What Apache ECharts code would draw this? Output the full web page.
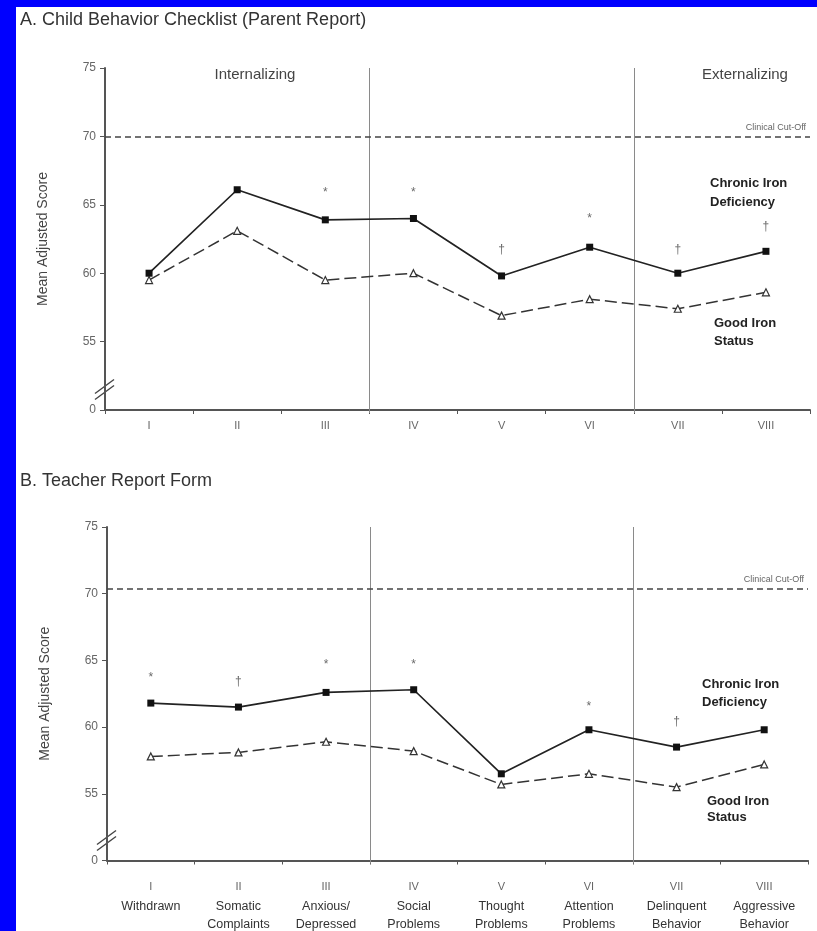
<!DOCTYPE html>
<html>
<head>
<meta charset="utf-8">
<script src="https://cdn.jsdelivr.net/npm/echarts@6/dist/echarts.min.js"></script>
<style>
  html, body { margin: 0; padding: 0; background: #0000ff; }
  #chart { position: absolute; left: 16px; top: 7px; width: 801px; height: 924px; background: #fff; }
</style>
</head>
<body>
<div id="chart"></div>
<script>
// ---- data ----
const categories = ["I", "II", "III", "IV", "V", "VI", "VII", "VIII"];
const scaleNames = ["Withdrawn", "Somatic\nComplaints", "Anxious/\nDepressed", "Social\nProblems",
    "Thought\nProblems", "Attention\nProblems", "Delinquent\nBehavior", "Aggressive\nBehavior"];

const parentChronic = [60.0, 66.1, 63.9, 64.0, 59.8, 61.9, 60.0, 61.6];
const parentGood = [59.5, 63.1, 59.5, 60.0, 56.9, 58.1, 57.4, 58.6];
const parentSig = ["", "", "*", "*", "\u2020", "*", "\u2020", "\u2020"];
const parentSigY = [null, null, 65.9, 65.9, 61.7, 64.0, 61.7, 63.4];

const teacherChronic = [61.8, 61.5, 62.6, 62.8, 56.5, 59.8, 58.5, 59.8];
const teacherGood = [57.8, 58.1, 58.9, 58.2, 55.7, 56.5, 55.5, 57.2];
const teacherSig = ["*", "\u2020", "*", "*", "", "*", "\u2020", ""];
const teacherSigY = [63.7, 63.4, 64.7, 64.7, null, 61.5, 60.4, null];

const cutoffParent = 70;
const cutoffTeacher = 70.4;
// internalizing | other | externalizing: boundaries after these category indices
const groupBreaks = [2, 5];
const BREAK_VALUE = 51.5;   // where the "//" axis break sits (50 is labelled "0")

const chart = echarts.init(document.getElementById("chart"));

const FONT = "Liberation Sans, Arial, sans-serif";

function sigData(marks, ys) {
    const out = [];
    for (let i = 0; i < categories.length; i++) {
        if (!marks[i]) continue;
        out.push({ name: marks[i], value: [categories[i], ys[i]] });
    }
    return out;
}

function makeXAxis(gridIndex, withNames) {
    return {
        type: "category",
        gridIndex: gridIndex,
        data: categories,
        boundaryGap: true,
        axisLine: { lineStyle: { color: "#555", width: 2 } },
        axisTick: { show: true, length: 4, lineStyle: { color: "#555" } },
        splitLine: { show: false },
        axisLabel: withNames ? {
            margin: 16,
            interval: 0,
            fontFamily: FONT,
            formatter: (v, i) => "{r|" + v + "}\n" + scaleNames[i].split("\n").map(s => "{n|" + s + "}").join("\n"),
            rich: {
                r: { fontSize: 11, color: "#666", lineHeight: 21, fontFamily: FONT },
                n: { fontSize: 12.5, color: "#333", lineHeight: 18, fontFamily: FONT }
            }
        } : {
            margin: 10,
            interval: 0,
            fontSize: 11,
            color: "#666",
            fontFamily: FONT
        }
    };
}

function makeYAxis(gridIndex) {
    return {
        type: "value",
        gridIndex: gridIndex,
        min: 50,
        max: 75,
        interval: 5,
        name: "Mean Adjusted Score",
        nameLocation: "middle",
        nameRotate: 90,
        nameGap: 55,
        nameTextStyle: { fontSize: 14, color: "#444", fontFamily: FONT },
        axisLine: { show: true, lineStyle: { color: "#555", width: 2 } },
        axisTick: { show: true, length: 5, lineStyle: { color: "#555" } },
        splitLine: { show: false },
        axisLabel: {
            fontSize: 12,
            color: "#666",
            fontFamily: FONT,
            margin: 9,
            formatter: (v) => (v === 50 ? "0" : String(v))
        }
    };
}

function chronicSeries(idx, data) {
    return {
        type: "line",
        xAxisIndex: idx,
        yAxisIndex: idx,
        data: data,
        symbol: "rect",
        symbolSize: 7,
        itemStyle: { color: "#111" },
        lineStyle: { color: "#222", width: 1.7 },
        z: 5
    };
}

function goodSeries(idx, data, cutoff) {
    return {
        type: "line",
        xAxisIndex: idx,
        yAxisIndex: idx,
        data: data,
        symbol: "triangle",
        symbolSize: 7,
        itemStyle: { color: "#fff", borderColor: "#333", borderWidth: 1.2 },
        lineStyle: { color: "#333", width: 1.5, type: [12, 5] },
        z: 4,
        markLine: {
            silent: true,
            symbol: "none",
            lineStyle: { color: "#444", width: 1.6, type: [6, 4] },
            label: {
                show: true,
                position: "insideEndTop",
                formatter: "Clinical Cut-Off",
                fontSize: 9,
                color: "#666",
                fontFamily: FONT,
                distance: 4
            },
            data: [{ yAxis: cutoff }]
        }
    };
}

function sigSeries(idx, marks, ys) {
    return {
        type: "scatter",
        xAxisIndex: idx,
        yAxisIndex: idx,
        data: sigData(marks, ys),
        symbolSize: 1,
        itemStyle: { color: "rgba(0,0,0,0)" },
        label: {
            show: true,
            position: "inside",
            formatter: "{b}",
            fontSize: 12,
            color: "#444",
            fontFamily: FONT
        },
        z: 6
    };
}

function txt(x, y, text, opts) {
    return {
        type: "text",
        x: x,
        y: y,
        silent: true,
        style: Object.assign({
            text: text,
            fill: "#444",
            font: "15px " + FONT,
            align: "left",
            verticalAlign: "middle"
        }, opts || {})
    };
}

const grids = [
    { left: 89, top: 61, width: 705, height: 342 },
    { left: 91, top: 520, width: 701, height: 335 }
];

const labels = [
    txt(4, 13, "A. Child Behavior Checklist (Parent Report)", { font: "18px " + FONT, fill: "#333" }),
    txt(4, 474, "B. Teacher Report Form", { font: "18px " + FONT, fill: "#333" }),
    txt(239, 68, "Internalizing", { align: "center" }),
    txt(729, 68, "Externalizing", { align: "center" }),
    txt(694, 176, "Chronic Iron", { font: "bold 13px " + FONT, fill: "#222" }),
    txt(694, 195, "Deficiency", { font: "bold 13px " + FONT, fill: "#222" }),
    txt(698, 316, "Good Iron", { font: "bold 13px " + FONT, fill: "#222" }),
    txt(698, 334, "Status", { font: "bold 13px " + FONT, fill: "#222" }),
    txt(686, 677, "Chronic Iron", { font: "bold 13px " + FONT, fill: "#222" }),
    txt(686, 695, "Deficiency", { font: "bold 13px " + FONT, fill: "#222" }),
    txt(691, 794, "Good Iron", { font: "bold 13px " + FONT, fill: "#222" }),
    txt(691, 810, "Status", { font: "bold 13px " + FONT, fill: "#222" })
];

chart.setOption({
    animation: false,
    backgroundColor: "#fff",
    grid: grids,
    xAxis: [makeXAxis(0, false), makeXAxis(1, true)],
    yAxis: [makeYAxis(0), makeYAxis(1)],
    series: [
        chronicSeries(0, parentChronic),
        goodSeries(0, parentGood, cutoffParent),
        sigSeries(0, parentSig, parentSigY),
        chronicSeries(1, teacherChronic),
        goodSeries(1, teacherGood, cutoffTeacher),
        sigSeries(1, teacherSig, teacherSigY)
    ],
    graphic: labels
});

// group separators and axis break marks ("//"), placed through the axes
const extras = [];
grids.forEach((g, gi) => {
    const yTop = chart.convertToPixel({ yAxisIndex: gi }, 75);
    const yBot = chart.convertToPixel({ yAxisIndex: gi }, 50);
    groupBreaks.forEach((ci) => {
        const xa = chart.convertToPixel({ xAxisIndex: gi }, categories[ci]);
        const xb = chart.convertToPixel({ xAxisIndex: gi }, categories[ci + 1]);
        const x = Math.round((xa + xb) / 2) + 0.5;
        extras.push({
            type: "line",
            silent: true,
            z: 1,
            shape: { x1: x, y1: yTop, x2: x, y2: yBot + 3 },
            style: { stroke: "#8a8a8a", lineWidth: 1 }
        });
    });

    const y = chart.convertToPixel({ yAxisIndex: gi }, BREAK_VALUE);
    const x = g.left;
    [-3, 3].forEach((dy) => {
        extras.push({
            type: "line",
            silent: true,
            shape: { x1: x - 10, y1: y + dy + 7, x2: x + 9, y2: y + dy - 7 },
            style: { stroke: "#444", lineWidth: 1.4 }
        });
    });
});
chart.setOption({ graphic: labels.concat(extras) });
</script>
</body>
</html>
